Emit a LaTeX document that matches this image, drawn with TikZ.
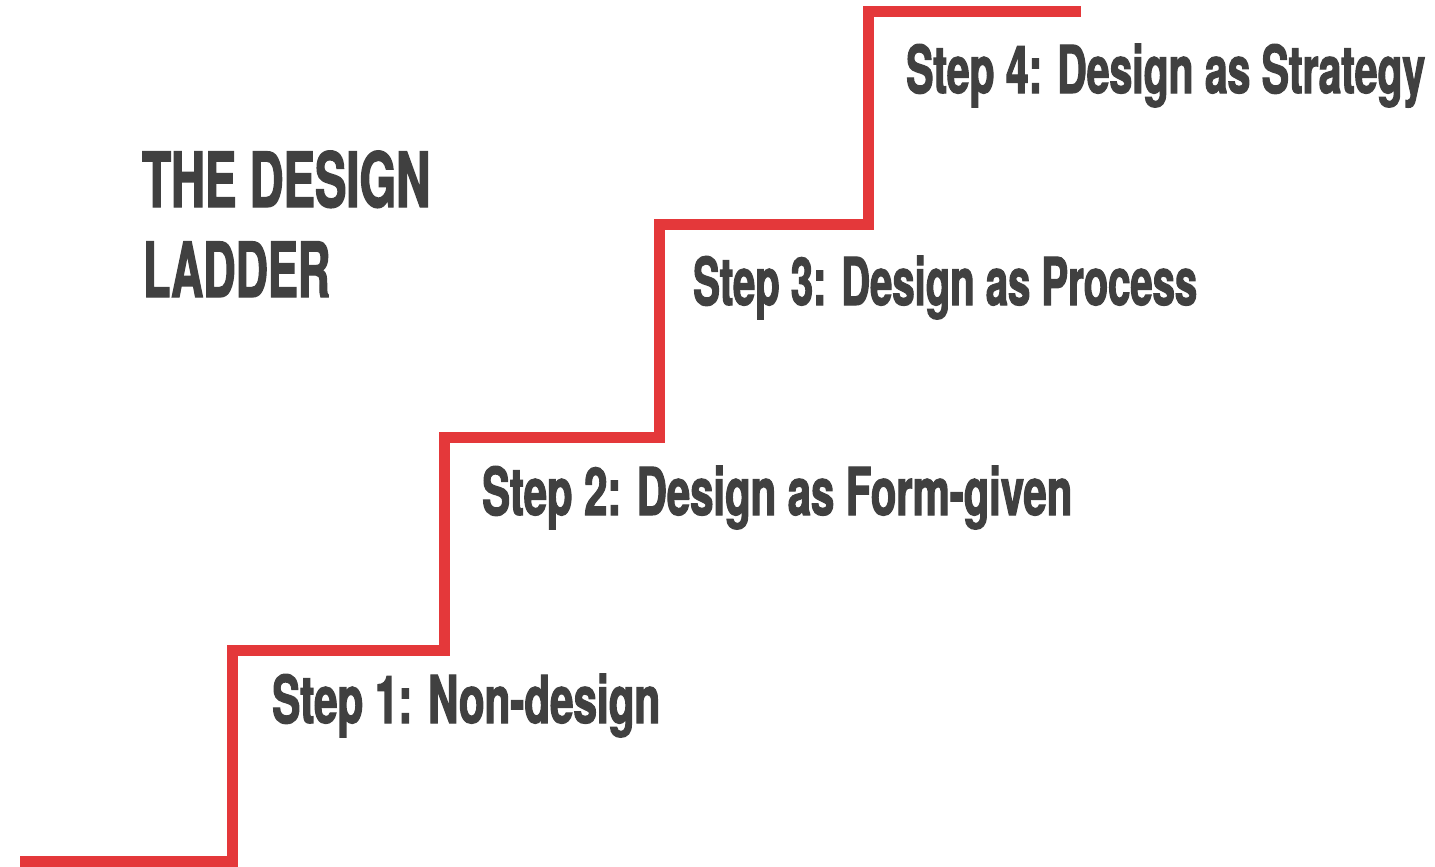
\documentclass[tikz,border=0pt]{standalone}
\usepackage{fontspec}
\newfontfamily\condfont[FakeStretch=0.65,FakeBold=1.8]{TeX Gyre Heros}
\definecolor{ladderred}{RGB}{228,56,58}
\definecolor{textgray}{RGB}{64,64,64}
\newcommand{\fitto}[2]{\resizebox{#1pt}{\height}{#2}}
\begin{document}
\begin{tikzpicture}[x=1pt,y=-1pt,
  steplabel/.style={anchor=base west,inner sep=0pt,text=textgray,font=\condfont\bfseries\fontsize{66}{66}\selectfont},
  titlelabel/.style={anchor=base west,inner sep=0pt,text=textgray,font=\condfont\bfseries\fontsize{76}{76}\selectfont},
  ladder/.style={draw=ladderred,line width=11pt,line cap=butt,line join=miter}]
\useasboundingbox (0,0) rectangle (1435,867);
\fill[white] (0,0) rectangle (1435,867);
\coordinate (s0) at (20,861.5);
\coordinate (c1) at (232.5,861.5);
\coordinate (c2) at (232.5,650);
\coordinate (c3) at (444,650);
\coordinate (c4) at (444,437);
\coordinate (c5) at (659.5,437);
\coordinate (c6) at (659.5,224);
\coordinate (c7) at (868.5,224);
\coordinate (c8) at (868.5,12);
\coordinate (s9) at (1081,12);
\draw[ladder] (s0) -- (c1) -- (c2) -- (c3) -- (c4) -- (c5) -- (c6) -- (c7) -- (c8) -- (s9);
\node[titlelabel] (t1) at (142,207) {\fitto{288}{THE DESIGN}};
\node[titlelabel] (t2) at (143,297) {\fitto{187}{LADDER}};
\node[steplabel] (l1) at (272,723) {\fitto{388}{Step 1: Non-design}};
\node[steplabel] (l2) at (482,515) {\fitto{590}{Step 2: Design as Form-given}};
\node[steplabel] (l3) at (693,305) {\fitto{504}{Step 3: Design as Process}};
\node[steplabel] (l4) at (906,93) {\fitto{519}{Step 4: Design as Strategy}};
\end{tikzpicture}
\end{document}
